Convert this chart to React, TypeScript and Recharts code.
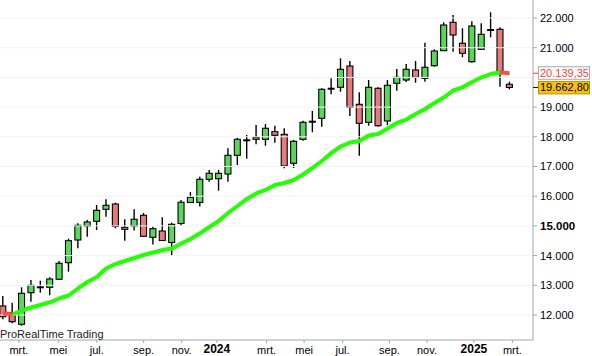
import React from 'react';
import { ComposedChart, Bar, Line, XAxis, YAxis, ReferenceLine } from 'recharts';

const opens = [12303, 12077, 11687, 12751, 12940, 12933, 13202, 13761, 14525, 14997, 15155, 15559, 15737, 14953, 14997, 15357, 14616, 14828, 14441, 15081, 15788, 15790, 16569, 16589, 16747, 17377, 17885, 17916, 17916, 18172, 18084, 17108, 17916, 18510, 18623, 19622, 19667, 20384, 19094, 18488, 19633, 18532, 19801, 19912, 20249, 19970, 20394, 20899, 21855, 21148, 20529, 20946, 21600, 21619, 19768];
const highs = [12640, 12414, 12933, 13178, 13155, 13269, 13818, 14569, 15088, 15199, 15704, 15896, 15781, 15222, 15559, 15434, 14973, 15289, 15108, 15872, 16141, 16656, 16882, 16882, 17613, 17970, 18061, 18397, 18431, 18374, 18286, 17892, 18542, 18869, 19633, 19970, 20643, 20552, 19498, 19912, 19667, 19912, 20283, 20451, 20552, 21168, 20946, 21855, 22101, 21653, 21889, 21821, 22192, 21687, 19855];
const lows = [11855, 11720, 11640, 12448, 12751, 12663, 13185, 13458, 14246, 14636, 14862, 15310, 14919, 14502, 14845, 14626, 14374, 14492, 13986, 15013, 15771, 15653, 16488, 16185, 16488, 17050, 17263, 17747, 17700, 17801, 16939, 16949, 17869, 18151, 18340, 19431, 19518, 18700, 17364, 18374, 18340, 18397, 19552, 19845, 19821, 19855, 20360, 20889, 20865, 20677, 20495, 20936, 21350, 19687, 19599];
const closes = [11943, 11774, 12730, 13000, 12925, 13212, 13741, 14502, 15020, 15131, 15525, 15694, 14986, 14885, 15222, 14650, 14906, 14508, 15054, 15795, 15963, 16569, 16771, 16771, 17377, 17916, 17880, 17983, 18286, 18050, 17017, 17848, 18488, 18505, 19599, 19615, 20273, 18993, 18454, 19667, 18374, 19734, 20003, 20273, 20003, 20340, 20889, 21764, 21428, 20811, 21731, 21451, 21592, 20192, 19662.8];
const maValues = [12060, 12017, 12151, 12252, 12337, 12428, 12556, 12656, 12892, 13111, 13279, 13566, 13717, 13818, 13919, 14020, 14104, 14188, 14239, 14407, 14559, 14751, 14963, 15165, 15434, 15670, 15906, 16091, 16209, 16377, 16444, 16545, 16730, 16949, 17185, 17454, 17673, 17808, 17859, 18044, 18094, 18279, 18465, 18582, 18768, 18936, 19138, 19323, 19559, 19667, 19845, 19997, 20114, 20165, 20139.35];

const xTickPos = [1.7, 5.9, 10, 15, 19.05, 22.8, 28.1, 32.1, 36.2, 41.2, 45.2, 50.2, 54.3];
const xTickLabels = ['mrt.', 'mei', 'jul.', 'sep.', 'nov.', '2024', 'mrt.', 'mei', 'jul.', 'sep.', 'nov.', '2025', 'mrt.'];
const yTickValues = [12000, 13000, 14000, 15000, 16000, 17000, 18000, 19000, 21000, 22000];
const gridValues = [12000, 13000, 14000, 15000, 16000, 17000, 18000, 19000, 20000, 21000, 22000];

const SLOTS = 57;
const lastMA = maValues[maValues.length - 1];
const lastClose = closes[closes.length - 1];

const data = Array.from({ length: SLOTS }, (_, i) => {
  if (i < opens.length) {
    const ma = maValues[i];
    const prev = i > 0 ? maValues[i - 1] : null;
    const next = i < maValues.length - 1 ? maValues[i + 1] : null;
    const up = (prev != null && ma > prev) || (next != null && next > ma);
    const down = (prev != null && ma < prev) || (next != null && next < ma);
    return {
      i,
      open: opens[i],
      high: highs[i],
      low: lows[i],
      close: closes[i],
      range: [lows[i], highs[i]],
      maUp: up ? ma : null,
      maDown: down ? ma : null,
    };
  }
  return { i, open: null, high: null, low: null, close: null, range: null, maUp: null, maDown: null };
});

const FONT = '"Liberation Sans", Arial, sans-serif';
const AXIS = '#a2a7ad';
const GREEN_BODY = '#58d858';
const RED_BODY = '#e77b7b';

const thousands = (n: number) => String(Math.trunc(n)).replace(/\B(?=(\d{3})+(?!\d))/g, '.');
const fmt2 = (n: number) => {
  const [a, b] = n.toFixed(2).split('.');
  return thousands(Number(a)) + ',' + b;
};

const Candle = (props: any) => {
  const { x, y, width, height, payload } = props;
  if (!payload || payload.open == null) return null;
  const { open, close, high, low } = payload;
  const top = Math.min(y, y + height);
  const h = Math.abs(height);
  const ratio = high === low ? 0 : h / (high - low);
  const py = (v: number) => top + (high - v) * ratio;
  const cx = x + width / 2;
  const bw = 6;
  const doji = Math.abs(close - open) < 20;
  const bTop = py(Math.max(open, close));
  const bBot = py(Math.min(open, close));
  return (
    <g>
      <line x1={cx} x2={cx} y1={top} y2={top + h} stroke="#000" strokeWidth={1.4} />
      {doji ? (
        <line x1={cx - 3.5} x2={cx + 3.5} y1={(bTop + bBot) / 2} y2={(bTop + bBot) / 2} stroke="#000" strokeWidth={2} />
      ) : (
        <rect
          x={cx - bw / 2}
          y={bTop}
          width={bw}
          height={Math.max(bBot - bTop, 1)}
          fill={close > open ? GREEN_BODY : RED_BODY}
          stroke="#000"
          strokeWidth={1.1}
        />
      )}
    </g>
  );
};

const YTick = (props: any) => {
  const { x, y, payload } = props;
  const v = payload.value;
  if (v === lastMA) {
    return (
      <g>
        <line x1={x} x2={x + 5} y1={y} y2={y} stroke="#ff4040" strokeWidth={1} />
        <rect x={x + 5.5} y={y - 6.5} width={51} height={12.5} fill="#fff" stroke="#a8a8a8" strokeWidth={1} />
        <text x={x + 7} y={y} dy="0.36em" fill="#ff3c3c" fontSize={11} fontFamily={FONT}>{fmt2(v)}</text>
      </g>
    );
  }
  if (v === lastClose) {
    return (
      <g>
        <line x1={x} x2={x + 5} y1={y} y2={y} stroke="#000" strokeWidth={1} />
        <rect x={x + 5.5} y={y - 6} width={51} height={12.5} fill="#f6c400" stroke="#b89400" strokeWidth={1} />
        <text x={x + 7} y={y} dy="0.36em" fill="#000" fontSize={11} fontFamily={FONT}>{fmt2(v)}</text>
      </g>
    );
  }
  const bold = v === 15000;
  return (
    <g>
      <line x1={x} x2={x + 4} y1={y} y2={y} stroke={AXIS} strokeWidth={1} />
      <text x={x + 7} y={y} dy="0.36em" fill="#000" fontSize={bold ? 11.5 : 11} fontWeight={bold ? 'bold' : 'normal'} fontFamily={FONT}>
        {thousands(v)}
      </text>
    </g>
  );
};

const XTick = (props: any) => {
  const { x, y, payload } = props;
  const idx = xTickPos.indexOf(payload.value);
  const label = idx >= 0 ? xTickLabels[idx] : '';
  const bold = /^\d{4}$/.test(label);
  return (
    <text x={x} y={y} dy={bold ? '0.62em' : '0.71em'} textAnchor="middle" fill="#000" fontSize={bold ? 12 : 11} fontWeight={bold ? 'bold' : 'normal'} fontFamily={FONT}>
      {label}
    </text>
  );
};

export default function App() {
  return (
    <div style={{ position: 'absolute', left: 0, top: 0, width: 592, height: 356, overflow: 'hidden', background: '#fff' }}>
      <div style={{ position: 'absolute', left: -8, top: 0 }}>
        <ComposedChart width={600} height={356} data={data} margin={{ top: 0, right: 0, bottom: 0, left: 6.3 }}>
          <XAxis xAxisId="cat" dataKey="i" type="category" hide height={0} />
          <XAxis
            xAxisId="num"
            dataKey="i"
            type="number"
            domain={[-0.5, SLOTS - 0.5]}
            allowDataOverflow
            ticks={xTickPos}
            interval={0}
            tick={<XTick />}
            tickSize={3}
            tickMargin={3}
            tickLine={{ stroke: AXIS }}
            axisLine={{ stroke: AXIS }}
            height={16}
          />
          <YAxis
            orientation="right"
            type="number"
            domain={[11158, 22606]}
            allowDataOverflow
            ticks={[...yTickValues, lastMA, lastClose]}
            interval={0}
            tick={<YTick />}
            tickLine={false}
            tickSize={0}
            tickMargin={0}
            axisLine={{ stroke: AXIS }}
            width={59}
          />
          {gridValues.map((g) => (
            <ReferenceLine key={g} xAxisId="num" y={g} stroke="#f3f3f3" strokeWidth={1} />
          ))}
          <Line xAxisId="num" dataKey="maUp" stroke="#22ff00" strokeWidth={4} dot={false} activeDot={false} isAnimationActive={false} strokeLinejoin="round" />
          <Line xAxisId="num" dataKey="maDown" stroke="#ff4a4a" strokeWidth={4} dot={false} activeDot={false} isAnimationActive={false} />
          <Bar xAxisId="cat" dataKey="range" barSize={7} shape={Candle} isAnimationActive={false} />
        </ComposedChart>
      </div>
      <div style={{ position: 'absolute', left: 0, top: 328, fontFamily: FONT, fontSize: 11, lineHeight: '12px', color: '#222' }}>
        ProRealTime Trading
      </div>
    </div>
  );
}
